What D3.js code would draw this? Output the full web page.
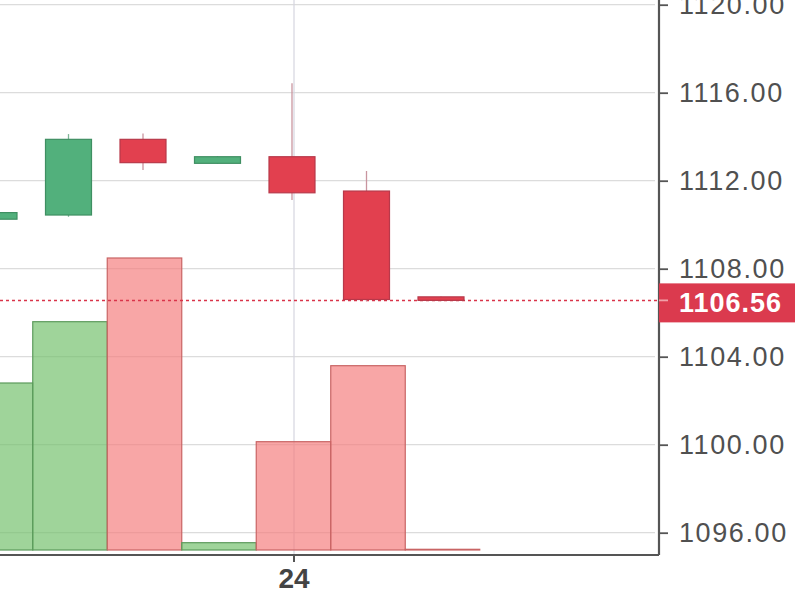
<!DOCTYPE html>
<html>
<head>
<meta charset="utf-8">
<script src="https://cdn.jsdelivr.net/npm/d3@7"></script>
<style>
  body { margin: 0; background: #fff; }
  svg { display: block; }
</style>
</head>
<body>
<div id="chart"></div>
<script>
const W = 800;
const H = 600;

// candle data (index 0 is the one cut off on the left edge)
const idx   = [0, 1, 2, 3, 4, 5, 6];
const opens  = [1110.25, 1110.44, 1113.88, 1112.79, 1113.09, 1111.53, 1106.72];
const highs  = [1110.60, 1114.12, 1114.15, 1113.12, 1116.43, 1112.44, 1106.74];
const lows   = [1110.20, 1110.36, 1112.49, 1112.77, 1111.12, 1106.52, 1106.52];
const closes = [1110.55, 1113.88, 1112.82, 1113.09, 1111.45, 1106.60, 1106.56];
const volumes = [1670, 2283, 2920, 73, 1083, 1843, 7];

const yTicks = [1096, 1100, 1104, 1108, 1112, 1116, 1120];
const xTicks = [4];
const xTickLabels = ["24"];
const lastPrice = 1106.56;

const plotW = 659;
const plotH = 555;

const x = d3.scaleLinear().domain([0, 1]).range([-6, 68.5]);
const step = x(1) - x(0);
const y = d3.scaleLinear().domain([1095, 1120]).range([554.7, 4.7]);
const yVol = d3.scaleLinear().domain([0, 5500]).range([550, 0]);

const svg = d3.select("#chart").append("svg").attr("width", W).attr("height", H);

svg.append("defs").append("clipPath").attr("id", "plot")
    .append("rect").attr("width", plotW).attr("height", plotH);

// grid
const grid = svg.append("g").attr("clip-path", "url(#plot)");
grid.selectAll("line.h")
    .data(yTicks)
    .enter()
    .append("line")
    .attr("x1", 0).attr("x2", plotW - 4)
    .attr("y1", d => y(d)).attr("y2", d => y(d))
    .attr("stroke", "#dcdcdc").attr("stroke-width", 1.2);
grid.selectAll("line.v")
    .data(xTicks)
    .enter()
    .append("line")
    .attr("x1", d => x(d) + 2).attr("x2", d => x(d) + 2)
    .attr("y1", 0).attr("y2", plotH)
    .attr("stroke", "#d6d6e0").attr("stroke-width", 1.2);

const candles = idx.map(i => ({
    i: i, o: opens[i], h: highs[i], l: lows[i], c: closes[i], v: volumes[i]
}));
const up = d => d.c >= d.o;

// volume
const vol = svg.append("g").attr("clip-path", "url(#plot)");
vol.selectAll("rect")
    .data(candles)
    .enter()
    .append("rect")
    .attr("x", d => x(d.i) - step / 2 + 1.5)
    .attr("width", step)
    .attr("y", d => yVol(d.v))
    .attr("height", d => yVol(0) - yVol(d.v))
    .attr("fill", d => up(d) ? "#72bf6a" : "#f47c7c")
    .attr("fill-opacity", 0.68)
    .attr("stroke", d => up(d) ? "#5c9a5c" : "#c86464")
    .attr("stroke-width", 1.2);

// last price line
svg.append("line")
    .attr("x1", 0).attr("x2", plotW)
    .attr("y1", y(lastPrice)).attr("y2", y(lastPrice))
    .attr("stroke", "#d9344a")
    .attr("stroke-width", 1.5)
    .attr("stroke-dasharray", "3,3");

// candles
const cg = svg.append("g").attr("clip-path", "url(#plot)")
    .selectAll("g.candle")
    .data(candles)
    .enter()
    .append("g")
    .classed("candle", true);

cg.append("line")
    .attr("x1", d => x(d.i)).attr("x2", d => x(d.i))
    .attr("y1", d => y(d.h)).attr("y2", d => y(d.l))
    .attr("stroke", d => up(d) ? "#7fb597" : "#c9959f")
    .attr("stroke-width", 1.3);

cg.append("rect")
    .attr("x", d => x(d.i) - 23)
    .attr("width", 46)
    .attr("y", d => y(Math.max(d.o, d.c)))
    .attr("height", d => Math.max(2, Math.abs(y(d.o) - y(d.c))))
    .attr("fill", d => up(d) ? "#52b07c" : "#e2404f")
    .attr("stroke", d => up(d) ? "#3f8f62" : "#b8394a")
    .attr("stroke-width", 1.2);

// right axis
const yAxis = svg.append("g")
    .attr("transform", `translate(${plotW},0)`)
    .call(d3.axisRight(y).tickValues(yTicks).tickSize(9).tickPadding(11).tickFormat(d3.format(".2f")));
yAxis.select(".domain").attr("d", `M0,0V${plotH}`).attr("stroke", "#555").attr("stroke-width", 2.2);
yAxis.selectAll(".tick line").attr("stroke", "#555").attr("stroke-width", 1.8);
yAxis.selectAll(".tick text")
    .attr("fill", "#505050")
    .style("font-family", "Liberation Sans, Arial, sans-serif")
    .style("font-size", "27px")
    .style("letter-spacing", "1.6px");

// bottom axis
const xAxis = svg.append("g")
    .attr("transform", `translate(0,${plotH})`)
    .call(d3.axisBottom(x).tickValues(xTicks).tickSize(7).tickPadding(6)
        .tickFormat((d, k) => xTickLabels[k]));
xAxis.select(".domain").attr("d", `M0,0H${plotW}`).attr("stroke", "#555").attr("stroke-width", 2.2);
xAxis.selectAll(".tick").attr("transform", d => `translate(${x(d) + 2},0)`);
xAxis.selectAll(".tick line").attr("stroke", "#555").attr("stroke-width", 2);
xAxis.selectAll(".tick text")
    .attr("fill", "#444")
    .style("font-family", "Liberation Sans, Arial, sans-serif")
    .style("font-size", "28px")
    .style("font-weight", "bold");

// last price label
const label = svg.append("g").attr("transform", `translate(${plotW},${y(lastPrice)})`);
label.append("rect")
    .attr("x", 0).attr("y", -17)
    .attr("width", 136).attr("height", 39)
    .attr("fill", "#db3a4e");
label.append("line")
    .attr("x1", 0).attr("x2", 9)
    .attr("stroke", "#f0a0a8").attr("stroke-width", 1.8);
label.append("text")
    .attr("x", 20).attr("y", 2)
    .attr("dy", "0.35em")
    .attr("fill", "#fff")
    .style("font-family", "Liberation Sans, Arial, sans-serif")
    .style("font-size", "27px")
    .style("font-weight", "bold")
    .style("letter-spacing", "1px")
    .text(d3.format(".2f")(lastPrice));
</script>
</body>
</html>
